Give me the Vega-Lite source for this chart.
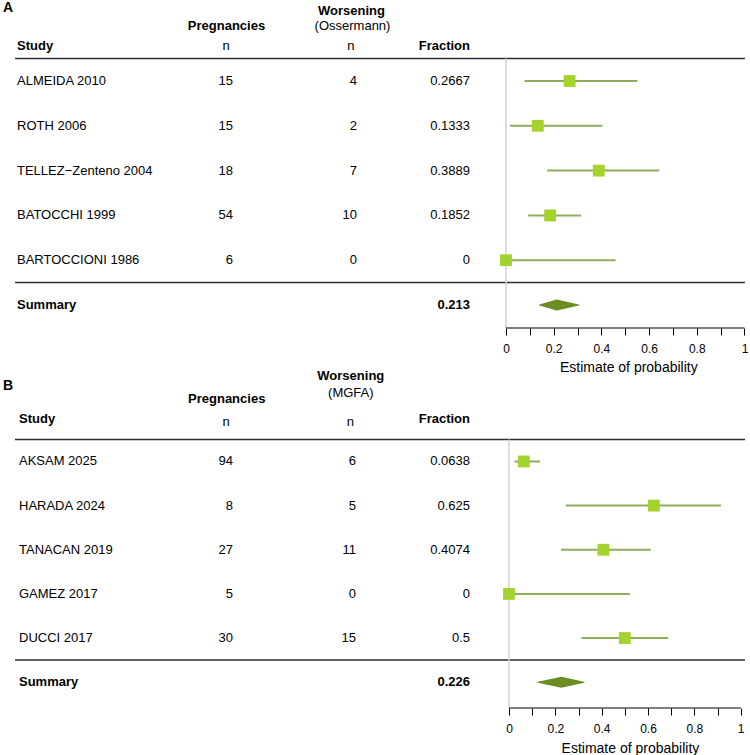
{
  "$schema": "https://vega.github.io/schema/vega-lite/v6.json",
  "padding": 0,
  "spacing": 33,
  "bounds": "flush",
  "config": {
    "view": {"stroke": null},
    "font": "Liberation Sans",
    "text": {"font": "Liberation Sans", "fontSize": 13, "baseline": "middle", "color": "#000000"}
  },
  "datasets": {
    "studiesA": [
      {"row": 1, "study": "ALMEIDA 2010", "preg": 15, "worse": 4, "frac": "0.2667", "est": 0.2667, "lo": 0.0779, "hi": 0.551},
      {"row": 2, "study": "ROTH 2006", "preg": 15, "worse": 2, "frac": "0.1333", "est": 0.1333, "lo": 0.0166, "hi": 0.4046},
      {"row": 3, "study": "TELLEZ−Zenteno 2004", "preg": 18, "worse": 7, "frac": "0.3889", "est": 0.3889, "lo": 0.173, "hi": 0.6425},
      {"row": 4, "study": "BATOCCHI 1999", "preg": 54, "worse": 10, "frac": "0.1852", "est": 0.1852, "lo": 0.0925, "hi": 0.3143},
      {"row": 5, "study": "BARTOCCIONI 1986", "preg": 6, "worse": 0, "frac": "0", "est": 0, "lo": 0, "hi": 0.4593}
    ],
    "summaryA": [
      {"row": 6, "label": "Summary", "text": "0.213", "est": 0.213, "lo": 0.14, "hi": 0.306}
    ],
    "studiesB": [
      {"row": 1, "study": "AKSAM 2025", "preg": 94, "worse": 6, "frac": "0.0638", "est": 0.0638, "lo": 0.0238, "hi": 0.1338},
      {"row": 2, "study": "HARADA 2024", "preg": 8, "worse": 5, "frac": "0.625", "est": 0.625, "lo": 0.2449, "hi": 0.9148},
      {"row": 3, "study": "TANACAN 2019", "preg": 27, "worse": 11, "frac": "0.4074", "est": 0.4074, "lo": 0.2239, "hi": 0.6118},
      {"row": 4, "study": "GAMEZ 2017", "preg": 5, "worse": 0, "frac": "0", "est": 0, "lo": 0, "hi": 0.5218},
      {"row": 5, "study": "DUCCI 2017", "preg": 30, "worse": 15, "frac": "0.5", "est": 0.5, "lo": 0.313, "hi": 0.687}
    ],
    "summaryB": [
      {"row": 6, "label": "Summary", "text": "0.226", "est": 0.226, "lo": 0.124, "hi": 0.324}
    ]
  },
  "vconcat": [
    {
      "width": 750,
      "height": 327,
      "layer": [
        {
          "data": {"values": [{}]},
          "mark": {"type": "rule", "color": "#2e2e2e", "strokeWidth": 1.5},
          "encoding": {
            "x": {"datum": -2.0587, "type": "quantitative"},
            "x2": {"datum": 1.0021},
            "y": {"datum": 0.5, "type": "quantitative", "axis": null}
          }
        },
        {
          "data": {"values": [{}]},
          "mark": {"type": "rule", "color": "#2e2e2e", "strokeWidth": 1.5},
          "encoding": {
            "x": {"datum": -2.0587, "type": "quantitative"},
            "x2": {"datum": 1.0021},
            "y": {"datum": 5.5, "type": "quantitative", "axis": null}
          }
        },
        {
          "data": {"values": [{}]},
          "mark": {"type": "rule", "color": "#d2d2d2", "strokeWidth": 1.5},
          "encoding": {
            "x": {"datum": 0, "type": "quantitative"},
            "y": {"datum": 0.5, "type": "quantitative", "axis": null},
            "y2": {"datum": 6.513}
          }
        },
        {
          "data": {"values": [{}]},
          "mark": {"type": "rule", "color": "#000000", "strokeWidth": 1},
          "encoding": {
            "x": {"datum": 0, "type": "quantitative"},
            "x2": {"datum": 1},
            "y": {"datum": 6.513, "type": "quantitative", "axis": null}
          }
        },
        {
          "data": {"name": "studiesA"},
          "mark": {"type": "rule", "color": "#8eae5c", "strokeWidth": 2},
          "encoding": {
            "x": {"field": "lo", "type": "quantitative"},
            "x2": {"field": "hi"},
            "y": {"field": "row", "type": "quantitative", "axis": null}
          }
        },
        {
          "data": {"name": "studiesA"},
          "mark": {"type": "point", "shape": "square", "filled": true, "opacity": 1, "color": "#a5d32d", "size": 140},
          "encoding": {
            "x": {
              "field": "est", "type": "quantitative",
              "scale": {"domain": [-2.1216, 1.0231], "nice": false, "zero": false},
              "axis": {
                "values": [0, 0.1, 0.2, 0.3, 0.4, 0.5, 0.6, 0.7, 0.8, 0.9, 1],
                "domain": false, "grid": false, "ticks": true,
                "tickColor": "#000000", "tickSize": 7, "tickWidth": 1,
                "labelFontSize": 12, "labelColor": "#000000", "labelFont": "Liberation Sans",
                "labelPadding": 8, "labelFlush": false, "labelOverlap": false,
                "labelExpr": "round(datum.value * 10) % 2 == 0 ? format(datum.value, '~g') : ''",
                "title": null
              }
            },
            "y": {
              "field": "row", "type": "quantitative",
              "scale": {"domain": [-0.786, 6.513], "reverse": true, "nice": false, "zero": false},
              "axis": null
            }
          }
        },
        {
          "data": {"name": "summaryA"},
          "transform": [{"fold": ["lo", "est", "hi"]}],
          "mark": {"type": "trail", "color": "#6b8e23"},
          "encoding": {
            "x": {"field": "value", "type": "quantitative"},
            "y": {"field": "row", "type": "quantitative", "axis": null},
            "order": {"field": "value"},
            "size": {"condition": {"test": "datum.key === 'est'", "value": 11}, "value": 0}
          }
        },
        {
          "data": {"name": "studiesA"},
          "mark": {"type": "text", "align": "left"},
          "encoding": {
            "x": {"datum": -2.0503, "type": "quantitative"},
            "y": {"field": "row", "type": "quantitative", "axis": null},
            "text": {"field": "study"}
          }
        },
        {
          "data": {"name": "studiesA"},
          "mark": {"type": "text", "align": "right"},
          "encoding": {
            "x": {"datum": -1.1447, "type": "quantitative"},
            "y": {"field": "row", "type": "quantitative", "axis": null},
            "text": {"field": "preg"}
          }
        },
        {
          "data": {"name": "studiesA"},
          "mark": {"type": "text", "align": "right"},
          "encoding": {
            "x": {"datum": -0.6247, "type": "quantitative"},
            "y": {"field": "row", "type": "quantitative", "axis": null},
            "text": {"field": "worse"}
          }
        },
        {
          "data": {"name": "studiesA"},
          "mark": {"type": "text", "align": "right"},
          "encoding": {
            "x": {"datum": -0.1509, "type": "quantitative"},
            "y": {"field": "row", "type": "quantitative", "axis": null},
            "text": {"field": "frac"}
          }
        },
        {
          "data": {"name": "summaryA"},
          "mark": {"type": "text", "align": "left", "fontWeight": "bold"},
          "encoding": {
            "x": {"datum": -2.0503, "type": "quantitative"},
            "y": {"field": "row", "type": "quantitative", "axis": null},
            "text": {"field": "label"}
          }
        },
        {
          "data": {"name": "summaryA"},
          "mark": {"type": "text", "align": "right", "fontWeight": "bold"},
          "encoding": {
            "x": {"datum": -0.1509, "type": "quantitative"},
            "y": {"field": "row", "type": "quantitative", "axis": null},
            "text": {"field": "text"}
          }
        },
        {
          "data": {"values": [{}]},
          "mark": {"type": "text", "align": "left", "fontWeight": "bold", "fontSize": 14},
          "encoding": {
            "x": {"datum": -2.109, "type": "quantitative"},
            "y": {"datum": -0.638, "type": "quantitative", "axis": null},
            "text": {"value": "A"}
          }
        },
        {
          "data": {"values": [{}]},
          "mark": {"type": "text", "align": "center", "fontWeight": "bold"},
          "encoding": {
            "x": {"datum": -0.6478, "type": "quantitative"},
            "y": {"datum": -0.5625, "type": "quantitative", "axis": null},
            "text": {"value": "Worsening"}
          }
        },
        {
          "data": {"values": [{}]},
          "mark": {"type": "text", "align": "center", "fontWeight": "bold"},
          "encoding": {
            "x": {"datum": -1.1719, "type": "quantitative"},
            "y": {"datum": -0.239, "type": "quantitative", "axis": null},
            "text": {"value": "Pregnancies"}
          }
        },
        {
          "data": {"values": [{}]},
          "mark": {"type": "text", "align": "center"},
          "encoding": {
            "x": {"datum": -0.6436, "type": "quantitative"},
            "y": {"datum": -0.239, "type": "quantitative", "axis": null},
            "text": {"value": "(Ossermann)"}
          }
        },
        {
          "data": {"values": [{}]},
          "mark": {"type": "text", "align": "left", "fontWeight": "bold"},
          "encoding": {
            "x": {"datum": -2.0503, "type": "quantitative"},
            "y": {"datum": 0.219, "type": "quantitative", "axis": null},
            "text": {"value": "Study"}
          }
        },
        {
          "data": {"values": [{}]},
          "mark": {"type": "text", "align": "center"},
          "encoding": {
            "x": {"datum": -1.174, "type": "quantitative"},
            "y": {"datum": 0.219, "type": "quantitative", "axis": null},
            "text": {"value": "n"}
          }
        },
        {
          "data": {"values": [{}]},
          "mark": {"type": "text", "align": "center"},
          "encoding": {
            "x": {"datum": -0.65, "type": "quantitative"},
            "y": {"datum": 0.219, "type": "quantitative", "axis": null},
            "text": {"value": "n"}
          }
        },
        {
          "data": {"values": [{}]},
          "mark": {"type": "text", "align": "right", "fontWeight": "bold"},
          "encoding": {
            "x": {"datum": -0.1509, "type": "quantitative"},
            "y": {"datum": 0.219, "type": "quantitative", "axis": null},
            "text": {"value": "Fraction"}
          }
        },
        {
          "data": {"values": [{}]},
          "mark": {"type": "text", "align": "center", "fontSize": 14},
          "encoding": {
            "x": {"datum": 0.515, "type": "quantitative"},
            "y": {"datum": 7.413, "type": "quantitative", "axis": null},
            "text": {"value": "Estimate of probability"}
          }
        }
      ]
    },
    {
      "width": 750,
      "height": 347,
      "layer": [
        {
          "data": {"values": [{}]},
          "mark": {"type": "rule", "color": "#2e2e2e", "strokeWidth": 1.5},
          "encoding": {
            "x": {"datum": -2.1321, "type": "quantitative"},
            "x2": {"datum": 1.0186},
            "y": {"datum": 0.5, "type": "quantitative", "axis": null}
          }
        },
        {
          "data": {"values": [{}]},
          "mark": {"type": "rule", "color": "#2e2e2e", "strokeWidth": 1.5},
          "encoding": {
            "x": {"datum": -2.1321, "type": "quantitative"},
            "x2": {"datum": 1.0186},
            "y": {"datum": 5.5, "type": "quantitative", "axis": null}
          }
        },
        {
          "data": {"values": [{}]},
          "mark": {"type": "rule", "color": "#d2d2d2", "strokeWidth": 1.5},
          "encoding": {
            "x": {"datum": 0, "type": "quantitative"},
            "y": {"datum": 0.5, "type": "quantitative", "axis": null},
            "y2": {"datum": 6.585}
          }
        },
        {
          "data": {"values": [{}]},
          "mark": {"type": "rule", "color": "#000000", "strokeWidth": 1},
          "encoding": {
            "x": {"datum": 0, "type": "quantitative"},
            "x2": {"datum": 1},
            "y": {"datum": 6.585, "type": "quantitative", "axis": null}
          }
        },
        {
          "data": {"name": "studiesB"},
          "mark": {"type": "rule", "color": "#8eae5c", "strokeWidth": 2},
          "encoding": {
            "x": {"field": "lo", "type": "quantitative"},
            "x2": {"field": "hi"},
            "y": {"field": "row", "type": "quantitative", "axis": null}
          }
        },
        {
          "data": {"name": "studiesB"},
          "mark": {"type": "point", "shape": "square", "filled": true, "opacity": 1, "color": "#a5d32d", "size": 140},
          "encoding": {
            "x": {
              "field": "est", "type": "quantitative",
              "scale": {"domain": [-2.1968, 1.0401], "nice": false, "zero": false},
              "axis": {
                "values": [0, 0.1, 0.2, 0.3, 0.4, 0.5, 0.6, 0.7, 0.8, 0.9, 1],
                "domain": false, "grid": false, "ticks": true,
                "tickColor": "#000000", "tickSize": 7, "tickWidth": 1,
                "labelFontSize": 12, "labelColor": "#000000", "labelFont": "Liberation Sans",
                "labelPadding": 8, "labelFlush": false, "labelOverlap": false,
                "labelExpr": "round(datum.value * 10) % 2 == 0 ? format(datum.value, '~g') : ''",
                "title": null
              }
            },
            "y": {
              "field": "row", "type": "quantitative",
              "scale": {"domain": [-1.276, 6.585], "reverse": true, "nice": false, "zero": false},
              "axis": null
            }
          }
        },
        {
          "data": {"name": "summaryB"},
          "transform": [{"fold": ["lo", "est", "hi"]}],
          "mark": {"type": "trail", "color": "#6b8e23"},
          "encoding": {
            "x": {"field": "value", "type": "quantitative"},
            "y": {"field": "row", "type": "quantitative", "axis": null},
            "order": {"field": "value"},
            "size": {"condition": {"test": "datum.key === 'est'", "value": 11}, "value": 0}
          }
        },
        {
          "data": {"name": "studiesB"},
          "mark": {"type": "text", "align": "left"},
          "encoding": {
            "x": {"datum": -2.1148, "type": "quantitative"},
            "y": {"field": "row", "type": "quantitative", "axis": null},
            "text": {"field": "study"}
          }
        },
        {
          "data": {"name": "studiesB"},
          "mark": {"type": "text", "align": "right"},
          "encoding": {
            "x": {"datum": -1.1912, "type": "quantitative"},
            "y": {"field": "row", "type": "quantitative", "axis": null},
            "text": {"field": "preg"}
          }
        },
        {
          "data": {"name": "studiesB"},
          "mark": {"type": "text", "align": "right"},
          "encoding": {
            "x": {"datum": -0.6603, "type": "quantitative"},
            "y": {"field": "row", "type": "quantitative", "axis": null},
            "text": {"field": "worse"}
          }
        },
        {
          "data": {"name": "studiesB"},
          "mark": {"type": "text", "align": "right"},
          "encoding": {
            "x": {"datum": -0.1683, "type": "quantitative"},
            "y": {"field": "row", "type": "quantitative", "axis": null},
            "text": {"field": "frac"}
          }
        },
        {
          "data": {"name": "summaryB"},
          "mark": {"type": "text", "align": "left", "fontWeight": "bold"},
          "encoding": {
            "x": {"datum": -2.1148, "type": "quantitative"},
            "y": {"field": "row", "type": "quantitative", "axis": null},
            "text": {"field": "label"}
          }
        },
        {
          "data": {"name": "summaryB"},
          "mark": {"type": "text", "align": "right", "fontWeight": "bold"},
          "encoding": {
            "x": {"datum": -0.1683, "type": "quantitative"},
            "y": {"field": "row", "type": "quantitative", "axis": null},
            "text": {"field": "text"}
          }
        },
        {
          "data": {"values": [{}]},
          "mark": {"type": "text", "align": "left", "fontWeight": "bold", "fontSize": 14},
          "encoding": {
            "x": {"datum": -2.1839, "type": "quantitative"},
            "y": {"datum": -0.71, "type": "quantitative", "axis": null},
            "text": {"value": "B"}
          }
        },
        {
          "data": {"values": [{}]},
          "mark": {"type": "text", "align": "center", "fontWeight": "bold"},
          "encoding": {
            "x": {"datum": -0.6828, "type": "quantitative"},
            "y": {"datum": -0.928, "type": "quantitative", "axis": null},
            "text": {"value": "Worsening"}
          }
        },
        {
          "data": {"values": [{}]},
          "mark": {"type": "text", "align": "center"},
          "encoding": {
            "x": {"datum": -0.6828, "type": "quantitative"},
            "y": {"datum": -0.542, "type": "quantitative", "axis": null},
            "text": {"value": "(MGFA)"}
          }
        },
        {
          "data": {"values": [{}]},
          "mark": {"type": "text", "align": "center", "fontWeight": "bold"},
          "encoding": {
            "x": {"datum": -1.2184, "type": "quantitative"},
            "y": {"datum": -0.424, "type": "quantitative", "axis": null},
            "text": {"value": "Pregnancies"}
          }
        },
        {
          "data": {"values": [{}]},
          "mark": {"type": "text", "align": "left", "fontWeight": "bold"},
          "encoding": {
            "x": {"datum": -2.1148, "type": "quantitative"},
            "y": {"datum": 0.038, "type": "quantitative", "axis": null},
            "text": {"value": "Study"}
          }
        },
        {
          "data": {"values": [{}]},
          "mark": {"type": "text", "align": "center"},
          "encoding": {
            "x": {"datum": -1.2214, "type": "quantitative"},
            "y": {"datum": 0.108, "type": "quantitative", "axis": null},
            "text": {"value": "n"}
          }
        },
        {
          "data": {"values": [{}]},
          "mark": {"type": "text", "align": "center"},
          "encoding": {
            "x": {"datum": -0.6849, "type": "quantitative"},
            "y": {"datum": 0.108, "type": "quantitative", "axis": null},
            "text": {"value": "n"}
          }
        },
        {
          "data": {"values": [{}]},
          "mark": {"type": "text", "align": "right", "fontWeight": "bold"},
          "encoding": {
            "x": {"datum": -0.1683, "type": "quantitative"},
            "y": {"datum": 0.038, "type": "quantitative", "axis": null},
            "text": {"value": "Fraction"}
          }
        },
        {
          "data": {"values": [{}]},
          "mark": {"type": "text", "align": "center", "fontSize": 14},
          "encoding": {
            "x": {"datum": 0.524, "type": "quantitative"},
            "y": {"datum": 7.507, "type": "quantitative", "axis": null},
            "text": {"value": "Estimate of probability"}
          }
        }
      ]
    }
  ]
}
